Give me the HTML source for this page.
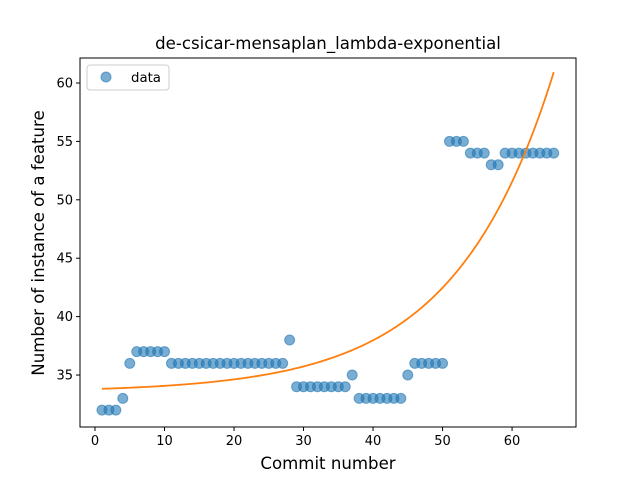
<!DOCTYPE html>
<html><head><meta charset="utf-8"><style>
body{margin:0;background:#fff}
svg text{font-family:"DejaVu Sans","Liberation Sans",sans-serif;fill:#000}
</style></head><body>
<svg id="chart" width="640" height="480" xmlns="http://www.w3.org/2000/svg">
<text x="328" y="49" font-size="16.6" text-anchor="middle">de-csicar-mensaplan_lambda-exponential</text>
<g id="plot"></g>
<rect x="80" y="58" width="496" height="369" fill="none" stroke="#000" stroke-width="1"/>
<text x="328" y="469" font-size="16.6" text-anchor="middle">Commit number</text>
<text transform="translate(44,243) rotate(-90)" font-size="16.6" text-anchor="middle">Number of instance of a feature</text>
<g>
<rect x="87" y="65" width="82" height="25" rx="3" fill="#fff" stroke="#ccc"/>
<circle cx="106" cy="77" r="5" fill="#1f77b4" fill-opacity="0.6" stroke="#1f77b4" stroke-opacity="0.6"/>
<text x="131" y="82" font-size="13.3">data</text>
</g>
</svg>
<script>
const commits = [];
for (let i = 1; i <= 66; i++) commits.push(i);
const counts = [32,32,32,33,36,37,37,37,37,37,
36,36,36,36,36,36,36,36,36,36,36,36,36,36,36,36,36,
38,34,34,34,34,34,34,34,34,35,33,33,33,33,33,33,33,35,
36,36,36,36,36,55,55,55,54,54,54,53,53,54,54,54,54,54,54,54,54];
const fitA = 33.53, fitB = 0.27, fitC = 0.07;
const xTicks = [0,10,20,30,40,50,60];
const yTicks = [35,40,45,50,55,60];

const X0=-2.16, X1=69.2, Y0=30.55, Y1=62.14;
const L=80,R=576,T=58,B=427;
const sx=v=>L+(v-X0)/(X1-X0)*(R-L);
const sy=v=>B-(v-Y0)/(Y1-Y0)*(B-T);
const NS="http://www.w3.org/2000/svg";
const g=document.getElementById('plot');
function mk(tag,attrs){const e=document.createElementNS(NS,tag);for(const k in attrs)e.setAttribute(k,attrs[k]);g.appendChild(e);return e;}
xTicks.forEach(v=>{
  const l=mk('line',{x1:sx(v),x2:sx(v),y1:B,y2:B+4,stroke:'#000'});
  
  
  const t=mk('text',{x:sx(v),y:B+18,'font-size':13,'text-anchor':'middle'});t.textContent=v;
  
  
});
yTicks.forEach(v=>{
  const l=mk('line',{x1:L-4,x2:L,y1:sy(v),y2:sy(v),stroke:'#000'});
  
  
  const t=mk('text',{x:L-7,y:sy(v)+4.5,'font-size':13,'text-anchor':'end'});t.textContent=v;
  
  
});
commits.forEach((c,i)=>{
  const p=mk('circle',{cx:sx(c),cy:sy(counts[i]),r:5,fill:'#1f77b4','fill-opacity':0.6,stroke:'#1f77b4','stroke-opacity':0.6});
  
  
});
let d='';
for(let k=0;k<=200;k++){const x=1+65*k/200;const y=fitA+fitB*Math.exp(fitC*x);d+=(k?'L':'M')+sx(x).toFixed(2)+','+sy(y).toFixed(2);}
const fit=mk('path',{d:d,fill:'none',stroke:'#ff7f0e','stroke-width':1.8});


</script>
</body></html>
